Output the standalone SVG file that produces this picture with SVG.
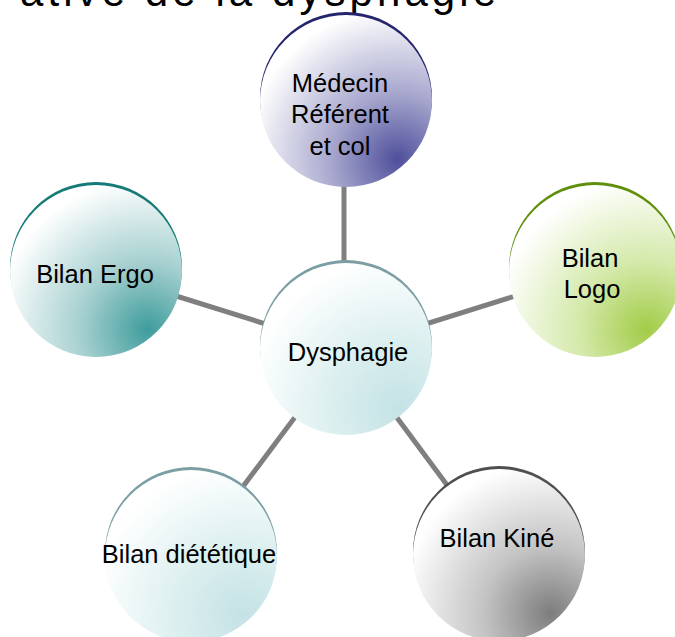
<svg xmlns="http://www.w3.org/2000/svg" width="675" height="637" viewBox="0 0 675 637">
  <style>
    .lbl { font-family: "Liberation Sans", Arial, sans-serif; font-size: 25.5px; fill: #000; text-anchor: middle; }
    .title { font-family: "Liberation Sans", Arial, sans-serif; font-size: 42px; fill: #000; }
    .link { stroke: #7f7f7f; stroke-width: 5; fill: none; }
  </style>
  <defs>
    <radialGradient id="gBlue" cx="0.8" cy="0.84" r="0.88">
      <stop offset="0" stop-color="#4f4f9c"/>
      <stop offset="0.45" stop-color="#a9a9cf"/>
      <stop offset="1" stop-color="#ffffff"/>
    </radialGradient>
    <radialGradient id="gTeal" cx="0.8" cy="0.84" r="0.88">
      <stop offset="0" stop-color="#3f9c9c"/>
      <stop offset="0.45" stop-color="#a7d0d0"/>
      <stop offset="1" stop-color="#ffffff"/>
    </radialGradient>
    <radialGradient id="gGreen" cx="0.8" cy="0.84" r="0.88">
      <stop offset="0" stop-color="#a2cc48"/>
      <stop offset="0.45" stop-color="#d4e9aa"/>
      <stop offset="1" stop-color="#ffffff"/>
    </radialGradient>
    <radialGradient id="gCyan" cx="0.8" cy="0.84" r="0.88">
      <stop offset="0" stop-color="#c4e2e6"/>
      <stop offset="0.45" stop-color="#dcefef"/>
      <stop offset="1" stop-color="#ffffff"/>
    </radialGradient>
    <radialGradient id="gGray" cx="0.8" cy="0.84" r="0.88">
      <stop offset="0" stop-color="#7d7d7d"/>
      <stop offset="0.45" stop-color="#c4c4c4"/>
      <stop offset="1" stop-color="#ffffff"/>
    </radialGradient>
  </defs>

  <rect width="675" height="637" fill="#ffffff"/>

  <!-- title, mostly above the top edge -->
  <text class="title" x="20" y="6" textLength="476" lengthAdjust="spacing">ative de la dysphagie</text>

  <!-- connectors from the central node -->
  <g id="connectors">
    <line class="link" x1="344" y1="349" x2="344" y2="100"/>
    <line class="link" x1="346" y1="349" x2="96" y2="271"/>
    <line class="link" x1="346" y1="349" x2="595" y2="271"/>
    <line class="link" x1="346" y1="349" x2="191" y2="556"/>
    <line class="link" x1="346" y1="349" x2="499" y2="555"/>
  </g>

  <g id="node-medecin">
    <circle cx="346" cy="98" r="86" fill="#25256e"/>
    <circle cx="346" cy="101" r="86" fill="url(#gBlue)"/>
    <text class="lbl" x="340" y="92">Médecin</text>
    <text class="lbl" x="340" y="123">Référent</text>
    <text class="lbl" x="340" y="155">et col</text>
  </g>

  <g id="node-ergo">
    <circle cx="96" cy="268" r="86" fill="#137a76"/>
    <circle cx="96" cy="271" r="86" fill="url(#gTeal)"/>
    <text class="lbl" x="95" y="283">Bilan Ergo</text>
  </g>

  <g id="node-logo">
    <circle cx="595" cy="268" r="86" fill="#5f8f0a"/>
    <circle cx="595" cy="271" r="86" fill="url(#gGreen)"/>
    <text class="lbl" x="590" y="267">Bilan</text>
    <text class="lbl" x="592" y="298">Logo</text>
  </g>

  <g id="node-dysphagie">
    <circle cx="346" cy="346" r="86" fill="#7b9ea3"/>
    <circle cx="346" cy="349" r="86" fill="url(#gCyan)"/>
    <text class="lbl" x="348" y="361">Dysphagie</text>
  </g>

  <g id="node-dietetique">
    <circle cx="191" cy="553" r="86" fill="#7b9ea3"/>
    <circle cx="191" cy="556" r="86" fill="url(#gCyan)"/>
    <text class="lbl" x="189" y="563">Bilan diététique</text>
  </g>

  <g id="node-kine">
    <circle cx="499" cy="552" r="86" fill="#4f4f4f"/>
    <circle cx="499" cy="555" r="86" fill="url(#gGray)"/>
    <text class="lbl" x="497" y="547">Bilan Kiné</text>
  </g>
</svg>
